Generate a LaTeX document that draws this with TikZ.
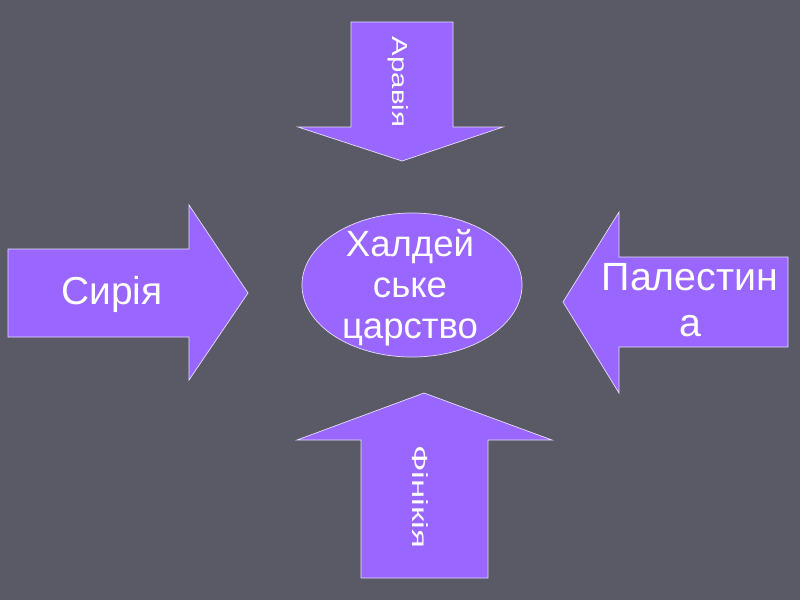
\documentclass[tikz,border=0pt]{standalone}
\usepackage{fontspec}
\usepackage{graphicx}
\setmainfont{Liberation Sans}
\usetikzlibrary{positioning, shapes.geometric}

\definecolor{slidebg}{HTML}{595A66}
\definecolor{arrowfill}{HTML}{9966FF}
\definecolor{arrowline}{HTML}{E6DDFF}

\begin{document}
\begin{tikzpicture}[
        x=0.025cm, y=-0.025cm,
        blockarrow/.style={fill=arrowfill, draw=arrowline, line width=0.5pt},
        label/.style={text=white, inner sep=0pt, align=center},
        centre/.style={ellipse, fill=arrowfill, draw=arrowline, line width=0.5pt, minimum width=5.5cm, minimum height=3.6cm, inner sep=0pt}
    ]
    % Background
    \fill[slidebg] (0,0) rectangle (800,600);
    \useasboundingbox (0,0) rectangle (800,600);

    % Arrows
    \draw[blockarrow] (351,22) -- (453,22) -- (453,127) -- (503,127) -- (402,161) -- (298,127) -- (351,127) -- cycle;
    \draw[blockarrow] (8,249) -- (189,249) -- (189,205) -- (248,293) -- (189,380) -- (189,337) -- (8,337) -- cycle;
    \draw[blockarrow] (788,257) -- (619,257) -- (619,212) -- (563,302) -- (619,393) -- (619,347) -- (788,347) -- cycle;
    \draw[blockarrow] (361,578) -- (361,440) -- (297,440) -- (424,393) -- (552,440) -- (488,440) -- (488,578) -- cycle;

    % Nodes
    \node[centre] (kingdom) at (412,285) {};
    \node[label, font=\fontsize{26}{29.2}\selectfont] (kingdomtext) at (410,288) {Халдей\\ське\\царство};
    \node[label, rotate=-90, font=\fontsize{15.5}{18}\selectfont] (arabia) at (398,82) {\scalebox{1.35}[1]{Аравія}};
    \node[label, font=\fontsize{27.7}{30}\selectfont] (syria) at (112,294) {Сирія};
    \node[label, font=\fontsize{28}{32.7}\selectfont] (palestine) at (690,300) {Палестин\\а};
    \node[label, rotate=-90, font=\fontsize{15.5}{18}\selectfont] (phoenicia) at (420,497) {\scalebox{1.6}[1]{Фінікія}};
\end{tikzpicture}
\end{document}
